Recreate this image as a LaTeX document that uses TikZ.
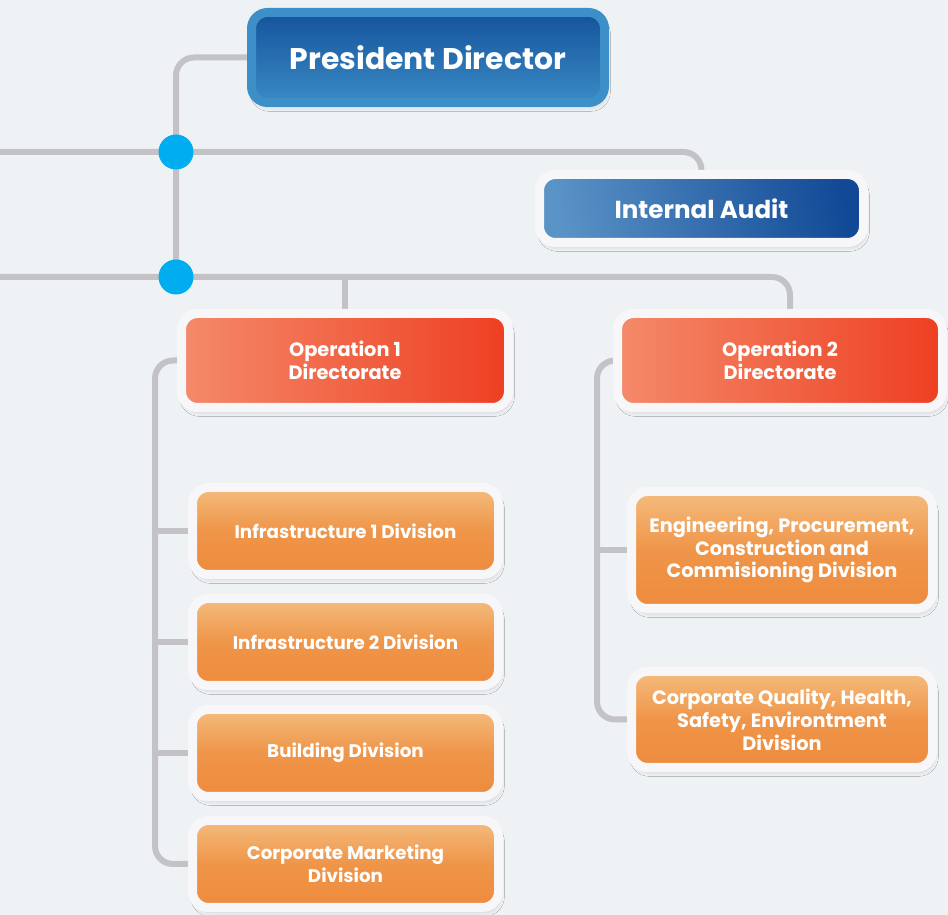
\documentclass[tikz,border=0pt]{standalone}
\usepackage{fontspec}
\setmainfont{Poppins}
\usetikzlibrary{positioning,shadows.blur}
\newlength\pxu
\setlength\pxu{0.02cm}
\definecolor{bgcol}{HTML}{EEF2F5}
\definecolor{linecol}{HTML}{C3C2C6}
\definecolor{dotcol}{HTML}{00AEEF}
\definecolor{pdtop}{HTML}{15539C}
\definecolor{pdbot}{HTML}{3A8AC5}
\definecolor{pdrim}{HTML}{3D8FC8}
\definecolor{iaL}{HTML}{5A93C6}
\definecolor{iaR}{HTML}{114996}
\definecolor{opL}{HTML}{F48A6A}
\definecolor{opR}{HTML}{EE3F22}
\definecolor{divtop}{HTML}{F4BC7E}
\definecolor{divmid}{HTML}{EF9549}
\definecolor{divbot}{HTML}{EE8B3D}
\definecolor{rim}{HTML}{F7F7F9}
\pgfdeclarelayer{background}
\pgfsetlayers{background,main}

\begin{document}
\begin{tikzpicture}[x=0.02cm,y=-0.02cm,
    box/.style={rectangle,rounded corners=16\pxu,draw=rim,line width=9\pxu,
      text=white,align=center,inner sep=0pt,
      blur shadow={shadow xshift=2\pxu,shadow yshift=-5\pxu,shadow opacity=12,shadow blur steps=6}},
    pdbox/.style={box,draw=pdrim,top color=pdtop,bottom color=pdbot,
      minimum width=353\pxu,minimum height=90\pxu,font=\bfseries\fontsize{17}{20}\selectfont},
    iabox/.style={box,left color=iaL,right color=iaR,shading angle=100,
      minimum width=324\pxu,minimum height=68\pxu,font=\bfseries\fontsize{14}{16}\selectfont},
    opbox/.style={box,left color=opL,right color=opR,
      minimum width=327\pxu,minimum height=94\pxu,font=\bfseries\fontsize{11}{13}\selectfont},
    divbox/.style={box,top color=divtop,bottom color=divbot,middle color=divmid,
      minimum width=306\pxu,minimum height=87\pxu,font=\bfseries\fontsize{10.4}{13}\selectfont},
    conn/.style={draw=linecol,line width=6\pxu,rounded corners=18\pxu},
    dot/.style={circle,fill=dotcol,minimum size=35\pxu,inner sep=0pt}]
  \useasboundingbox (0,0) rectangle (948,915);

  % top of the chart
  \node[pdbox] (pd) at (428,57.5) {President Director};
  \node[iabox] (ia) at (701.5,208.5) {Internal Audit};
  \node[dot] (dotA) at (176,152) {};
  \node[dot] (dotB) at (176,277) {};
  \coordinate (edgeA) at (0,152);
  \coordinate (edgeB) at (0,277);

  % directorates
  \node[opbox] (op1) at (345,360.5) {Operation 1\\Directorate};
  \node[opbox,minimum width=325\pxu] (op2) at (780,360.5) {Operation 2\\Directorate};

  % divisions
  \node[divbox] (inf1) at (345.5,531) {Infrastructure 1 Division};
  \node[divbox] (inf2) at (345.5,642) {Infrastructure 2 Division};
  \node[divbox] (bld) at (345.5,753) {Building Division};
  \node[divbox] (mkt) at (345.5,864) {Corporate Marketing\\Division};
  \node[divbox,minimum width=301\pxu,minimum height=117\pxu,font=\bfseries\fontsize{11}{13}\selectfont] (epc) at (782,550)
    {Engineering, Procurement,\\Construction and\\Commisioning Division};
  \node[divbox,minimum width=301\pxu,minimum height=96\pxu,font=\bfseries\fontsize{11}{13}\selectfont] (cqh) at (782,719.5)
    {Corporate Quality, Health,\\Safety, Environtment\\Division};

  \begin{pgfonlayer}{background}
    \fill[bgcol] (0,0) rectangle (948,915);
    \draw[conn] (pd.west) -| (dotB.center);
    \draw[conn] (edgeA) -| (ia.north);
    \draw[conn] (edgeB) -| ([xshift=10\pxu]op2.north);
    \draw[conn] (dotB.center -| op1.north) -- (op1.north);
    \draw[conn] (op1.west) -- ++(-22,0) coordinate (spL) |- (mkt.west);
    \foreach \n in {inf1,inf2,bld}
      \draw[conn] (\n.west) -- (\n.west -| spL);
    \draw[conn] (op2.west) -- ++(-16,0) coordinate (spR) |- (cqh.west);
    \draw[conn] (epc.west) -- (epc.west -| spR);
  \end{pgfonlayer}
\end{tikzpicture}
\end{document}
